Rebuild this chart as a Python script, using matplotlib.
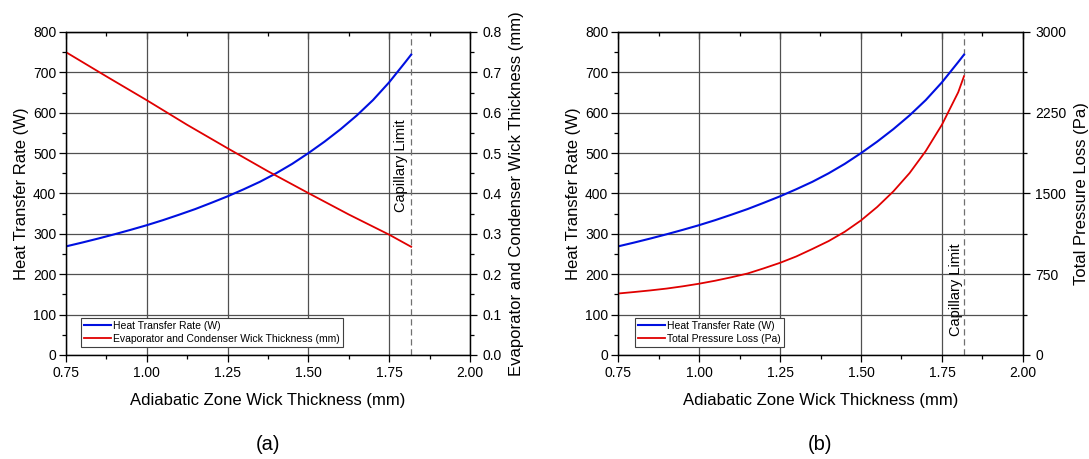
import matplotlib
matplotlib.use("Agg")
import matplotlib.pyplot as plt
from matplotlib.ticker import MultipleLocator

plt.rcParams['font.family'] = ['Liberation Sans', 'DejaVu Sans']

# Heat transfer rate vs adiabatic zone wick thickness
wick_q = [0.75, 0.80, 0.85, 0.90, 0.95, 1.00, 1.05, 1.10, 1.15, 1.20, 1.25, 1.30,
          1.35, 1.40, 1.45, 1.50, 1.55, 1.60, 1.65, 1.70, 1.75, 1.80, 1.818]
heat_rate = [269, 278.5, 288.5, 299, 310, 321.5, 334, 347.5, 361.5, 377, 393, 410.5,
             429, 450, 473.5, 500, 528.5, 559.5, 593.5, 631.5, 675.5, 725.5, 744]

# Evaporator / condenser wick thickness (mm)
wick_t = [0.75, 0.875, 1.00, 1.125, 1.25, 1.375, 1.50, 1.625, 1.75, 1.818]
evap_cond = [0.750, 0.690, 0.631, 0.570, 0.512, 0.455, 0.401, 0.348, 0.298, 0.268]

# Total pressure loss (Pa)
wick_p = [0.75, 0.80, 0.85, 0.90, 0.95, 1.00, 1.05, 1.10, 1.15, 1.20, 1.25, 1.30,
          1.35, 1.40, 1.45, 1.50, 1.55, 1.60, 1.65, 1.70, 1.75, 1.80, 1.818]
pressure = [571, 585, 600, 617, 638, 662, 690, 722, 757, 805, 856, 915,
            985, 1058, 1145, 1250, 1375, 1520, 1690, 1895, 2140, 2440, 2590]

cap_limit = 1.818

fig = plt.figure(figsize=(10.89, 4.59), dpi=100)
ax_a = fig.add_axes([66 / 1089, 1 - 355 / 459, 404 / 1089, 323 / 459])
ax_b = fig.add_axes([618 / 1089, 1 - 355 / 459, 405 / 1089, 323 / 459])

tick_fs = 10
label_fs = 12


def style_panel(ax, ax2):
    ax.set_xlim(0.75, 2.0)
    ax.set_ylim(0, 800)
    ax.xaxis.set_major_locator(MultipleLocator(0.25))
    ax.xaxis.set_minor_locator(MultipleLocator(0.125))
    ax.yaxis.set_major_locator(MultipleLocator(100))
    ax.yaxis.set_minor_locator(MultipleLocator(50))
    ax.xaxis.set_major_formatter(lambda v, p: f"{v:.2f}")
    ax.grid(True, which='major', color='#505050', linewidth=0.9)
    ax.set_axisbelow(True)
    ax.tick_params(which='major', direction='out', length=5, width=0.9,
                   labelsize=tick_fs, pad=2)
    ax.tick_params(axis='x', which='major', pad=3)
    ax.tick_params(which='minor', direction='out', length=3, width=0.9)
    top = ax.secondary_xaxis('top')
    top.xaxis.set_major_locator(MultipleLocator(0.25))
    top.xaxis.set_minor_locator(MultipleLocator(0.125))
    top.tick_params(which='major', direction='in', length=5, width=0.9, labeltop=False)
    top.tick_params(which='minor', direction='in', length=3, width=0.9)
    ax2.tick_params(which='major', direction='out', length=5, width=0.9,
                    labelsize=tick_fs, pad=4)
    ax2.tick_params(which='minor', direction='out', length=3, width=0.9)
    for a in (ax, ax2):
        for s in a.spines.values():
            s.set_linewidth(0.9)
    ax.set_xlabel("Adiabatic Zone Wick Thickness (mm)", fontsize=label_fs, labelpad=9)
    ax.set_ylabel("Heat Transfer Rate (W)", fontsize=label_fs, labelpad=3)
    ax.axvline(cap_limit, color='#707070', linestyle=(0, (5, 3)), linewidth=0.9)


def add_legend(ax, handles, x0):
    leg = ax.legend(handles=handles, loc='lower left', bbox_to_anchor=(x0, 0.025),
                    borderaxespad=0, fontsize=7.5, frameon=True, fancybox=False,
                    edgecolor='#404040', framealpha=1, borderpad=0.3,
                    labelspacing=0.3, handlelength=2.6, handletextpad=0.2)
    leg.get_frame().set_linewidth(0.8)


# Panel (a)
ax_a2 = ax_a.twinx()
style_panel(ax_a, ax_a2)
ax_a2.set_ylim(0, 0.8)
ax_a2.yaxis.set_major_locator(MultipleLocator(0.1))
ax_a2.yaxis.set_minor_locator(MultipleLocator(0.05))
ax_a2.yaxis.set_major_formatter(lambda v, p: f"{v:.1f}")
ax_a2.set_ylabel("Evaporator and Condenser Wick Thickness (mm)", fontsize=label_fs,
                 labelpad=5)
l1, = ax_a.plot(wick_q, heat_rate, color='#0010e0', linewidth=1.5,
                label="Heat Transfer Rate (W)")
l2, = ax_a2.plot(wick_t, evap_cond, color='#e00000', linewidth=1.3,
                 label="Evaporator and Condenser Wick Thickness (mm)")
ax_a.annotate("Capillary Limit", xy=(cap_limit, 470), xytext=(-2, 0),
              textcoords='offset points', rotation=90, ha='right', va='center',
              fontsize=10.5)
add_legend(ax_a, [l1, l2], 0.037)
fig.text((66 + 202) / 1089, 1 - 445 / 459, "(a)", fontsize=14.5, ha='center', va='center')

# Panel (b)
ax_b2 = ax_b.twinx()
style_panel(ax_b, ax_b2)
ax_b2.set_ylim(0, 3000)
ax_b2.yaxis.set_major_locator(MultipleLocator(750))
ax_b2.yaxis.set_minor_locator(MultipleLocator(375))
ax_b2.set_ylabel("Total Pressure Loss (Pa)", fontsize=label_fs, labelpad=5)
m1, = ax_b.plot(wick_q, heat_rate, color='#0010e0', linewidth=1.5,
                label="Heat Transfer Rate (W)")
m2, = ax_b2.plot(wick_p, pressure, color='#e00000', linewidth=1.3,
                 label="Total Pressure Loss (Pa)")
ax_b.annotate("Capillary Limit", xy=(cap_limit, 161), xytext=(-1, 0),
              textcoords='offset points', rotation=90, ha='right', va='center',
              fontsize=10.5)
add_legend(ax_b, [m1, m2], 0.041)
fig.text((618 + 202) / 1089, 1 - 445 / 459, "(b)", fontsize=14.5, ha='center', va='center')

fig.savefig("out.png", dpi=100)
